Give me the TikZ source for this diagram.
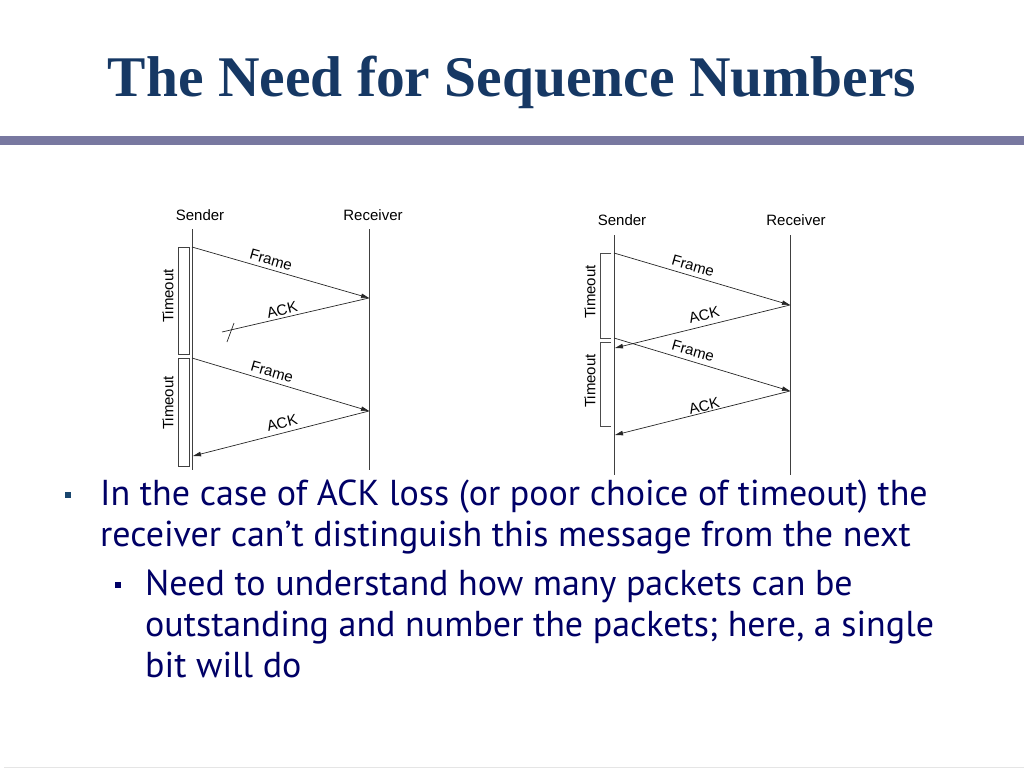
\documentclass[tikz,border=0pt]{standalone}
\usepackage{fontspec}
\setmainfont{Liberation Serif}
\newfontfamily\diagfont{Liberation Sans}
\newfontfamily\bodyfont{PT Sans}
\usetikzlibrary{arrows.meta,positioning}
\definecolor{titleblue}{RGB}{22,56,100}
\definecolor{rulegray}{RGB}{120,120,160}
\definecolor{bodynavy}{RGB}{0,0,102}
\definecolor{bulletteal}{RGB}{25,70,110}

\begin{document}
\begin{tikzpicture}[x=1pt, y=-1pt,
    >={Triangle[length=8pt,width=4.5pt]},
    lbl/.style={font=\diagfont\fontsize{15}{17}\selectfont, inner sep=1pt},
    life/.style={line width=0.8pt, black!75},
    msg/.style={->, line width=0.7pt, black!85},
    tbox/.style={draw=black!75, line width=0.7pt, inner sep=0pt,
                 minimum width=11pt},
    bracket/.style={draw=black!70, line width=0.7pt},
    bullet/.style={inner sep=0pt, minimum size=6.5pt},
    body/.style={font=\bodyfont\fontsize{36}{41}\selectfont, text=bodynavy,
                 inner sep=0pt, anchor=base west},
]
\useasboundingbox (0,0) rectangle (1024,768);

% --- title and rule ---
\node[font=\bfseries\fontsize{57.5}{62}\selectfont, text=titleblue,
      anchor=base, inner sep=0pt] (title) at (512,96)
  {The Need for Sequence Numbers};
\fill[rulegray] (0,136) rectangle (1024,145);
\draw[black!10, line width=0.6pt] (4,767) -- (1024,767);

% --- left diagram: lost ACK ---
\node[lbl] (snd1) at (200,215) {Sender};
\node[lbl] (rcv1) at (373,215) {Receiver};
\coordinate (s1top) at (192,229);  \coordinate (s1bot) at (192,470);
\coordinate (r1top) at (369,229);  \coordinate (r1bot) at (369,470);
\draw[life] (s1top) -- (s1bot);
\draw[life] (r1top) -- (r1bot);

\node[tbox, minimum height=107pt] (to1a) at (183.5,300.5) {};
\node[tbox, minimum height=108pt] (to1b) at (183.5,412) {};
\node[lbl, rotate=90] (tl1a) at (168,296) {Timeout};
\node[lbl, rotate=90] (tl1b) at (168,403) {Timeout};

\coordinate (f1a) at (192,247);  \coordinate (f1b) at (369,298);
\coordinate (lost) at (222,332);
\coordinate (f2a) at (192,358);  \coordinate (f2b) at (369,411);
\coordinate (a2) at (193,456);

\draw[msg] (f1a) -- (f1b);
\draw[line width=0.7pt, black!85] (f1b) -- (lost);
\draw[line width=0.7pt, black!85] (234,323) -- (227,342);
\draw[msg] (f2a) -- (f2b);
\draw[msg] (f2b) -- (a2);
\node[lbl, rotate=-16] (fr1a) at (271,260) {Frame};
\node[lbl, rotate=14]  (ak1a) at (282,310) {ACK};
\node[lbl, rotate=-16] (fr1b) at (272,372) {Frame};
\node[lbl, rotate=14]  (ak1b) at (282,423) {ACK};

% --- right diagram: premature timeout ---
\node[lbl] (snd2) at (622,220) {Sender};
\node[lbl] (rcv2) at (796,220) {Receiver};
\coordinate (s2top) at (614,235);  \coordinate (s2bot) at (614,475);
\coordinate (r2top) at (790,235);  \coordinate (r2bot) at (790,475);
\draw[life] (s2top) -- (s2bot);
\draw[life] (r2top) -- (r2bot);

\coordinate (g1a) at (614,253);  \coordinate (g1b) at (790,305);
\coordinate (k1)  at (615,348);
\coordinate (g2a) at (614,338);  \coordinate (g2b) at (790,391);
\coordinate (k2)  at (615,435);

\draw[bracket] (611,253) -- (600,253) -- (600,338) -- (611,338);
\draw[bracket] (611,342) -- (600,342) -- (600,426) -- (611,426);
\node[lbl, rotate=90] (tl2a) at (590,292) {Timeout};
\node[lbl, rotate=90] (tl2b) at (590,381) {Timeout};

\draw[msg] (g1a) -- (g1b);
\draw[msg] (g1b) -- (k1);
\draw[msg] (g2a) -- (g2b);
\draw[msg] (g2b) -- (k2);
\node[lbl, rotate=-16] (fr2a) at (693,266) {Frame};
\node[lbl, rotate=14]  (ak2a) at (704,315) {ACK};
\node[lbl, rotate=-16] (fr2b) at (693,351) {Frame};
\node[lbl, rotate=14]  (ak2b) at (704,406) {ACK};

% --- bullet text ---
\node[bullet, fill=bulletteal] (bul1) at (68,495) {};
\node[body] (txt1) at (100,505)
  {\parbox[t]{900pt}{In the case of ACK loss (or poor choice of timeout) the\\
   receiver can’t distinguish this message from the next}};
\node[bullet, fill=bodynavy] (bul2) at (118,585) {};
\node[body] (txt2) at (145,595)
  {\parbox[t]{860pt}{Need to understand how many packets can be\\
   outstanding and number the packets; here, a single\\
   bit will do}};
\end{tikzpicture}
\end{document}
